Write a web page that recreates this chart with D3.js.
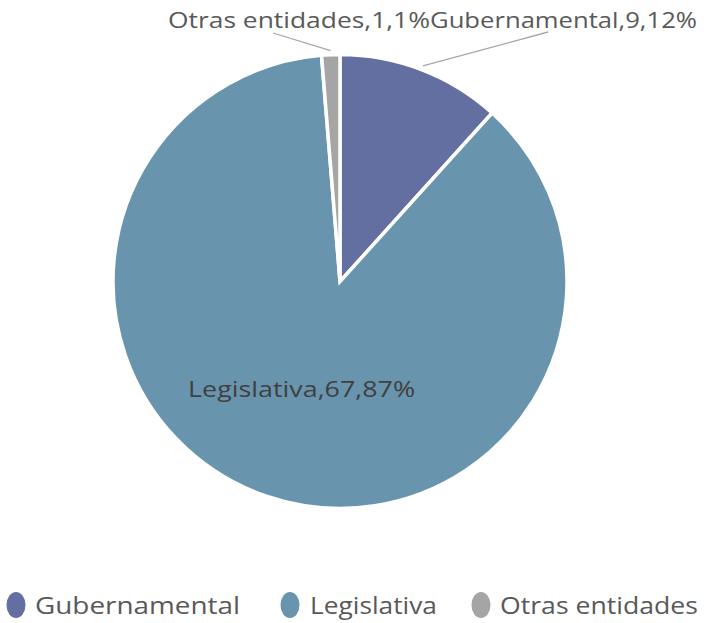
<!DOCTYPE html>
<html>
<head>
<meta charset="utf-8">
<script src="https://cdn.jsdelivr.net/npm/d3@7"></script>
<style>
  body { margin: 0; background: #fff; }
  svg { display: block; font-family: "Open Sans", "Noto Sans", sans-serif; }
</style>
</head>
<body>
<svg id="chart" width="711" height="623"></svg>
<script>
const categories = ["Gubernamental", "Legislativa", "Otras entidades"];
const values = [9, 67, 1];
const percents = ["12%", "87%", "1%"];
const colors = ["#636ea1", "#6994ae", "#a5a5a5"];

const svg = d3.select("#chart");
const cx = 340, cy = 281.5, radius = 227;

const pie = d3.pie().sort(null).value((d) => d.value);
const arcs = pie(categories.map((c, i) => ({ name: c, value: values[i], pct: percents[i], color: colors[i] })));

const arc = d3.arc().innerRadius(0).outerRadius(radius);

const g = svg.append("g").attr("transform", `translate(${cx},${cy})`);

g.selectAll("path.slice")
  .data(arcs)
  .join("path")
  .attr("class", "slice")
  .attr("d", arc)
  .attr("fill", (d) => d.data.color)
  .attr("stroke", "#fff")
  .attr("stroke-width", 3.5)
  .attr("stroke-linejoin", "miter");

// label placement (Excel-like)
const mid = (d) => (d.startAngle + d.endAngle) / 2;
const outsideLabels = {
  "Gubernamental": { x: 430, y: 28, anchor: "start", line: [548, 32], width: 267 },
  "Otras entidades": { x: 168, y: 28, anchor: "start", line: [273, 33], width: 262 },
};

arcs.forEach((d) => {
  const text = `${d.data.name},${d.data.value},${d.data.pct}`;
  const o = outsideLabels[d.data.name];
  if (o) {
    const a = mid(d);
    const r0 = radius + 4;
    svg.append("line")
      .attr("x1", cx + Math.sin(a) * r0)
      .attr("y1", cy - Math.cos(a) * r0)
      .attr("x2", o.line[0])
      .attr("y2", o.line[1])
      .attr("stroke", "#a6a6a6")
      .attr("stroke-width", 1.3);
    svg.append("text")
      .attr("x", o.x)
      .attr("y", o.y)
      .attr("text-anchor", o.anchor)
      .attr("font-size", 21)
      .attr("fill", "#595959")
      .attr("textLength", o.width)
      .attr("lengthAdjust", "spacingAndGlyphs")
      .text(text);
  } else {
    const [x, y] = arc.centroid(d);
    g.append("text")
      .attr("x", x - 2)
      .attr("y", y + 8)
      .attr("text-anchor", "middle")
      .attr("font-size", 22)
      .attr("fill", "#404040")
      .attr("textLength", 227)
      .attr("lengthAdjust", "spacingAndGlyphs")
      .text(text);
  }
});

// legend
const legendX = [16, 290, 481];
const legendW = [205, 127, 198];
const legend = svg.append("g").attr("class", "legend");
categories.forEach((c, i) => {
  legend.append("ellipse")
    .attr("cx", legendX[i])
    .attr("cy", 605)
    .attr("rx", 9.5)
    .attr("ry", 13)
    .attr("fill", colors[i]);
  legend.append("text")
    .attr("x", legendX[i] + (i === 1 ? 20 : 19))
    .attr("y", 614)
    .attr("font-size", 23)
    .attr("fill", "#595959")
    .attr("textLength", legendW[i])
    .attr("lengthAdjust", "spacingAndGlyphs")
    .text(c);
});
</script>
</body>
</html>
